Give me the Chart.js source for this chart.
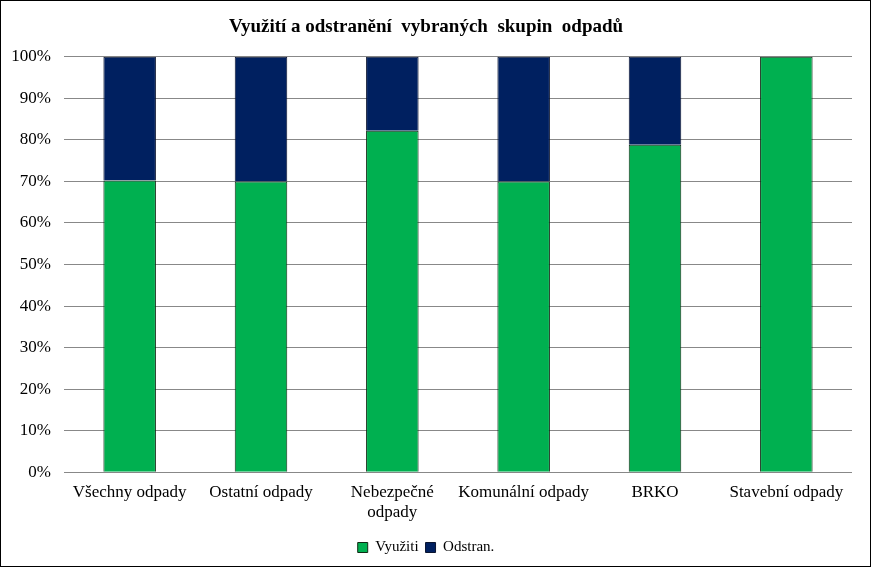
<!DOCTYPE html>
<html><head><meta charset="utf-8">
<script src="https://cdn.jsdelivr.net/npm/chart.js@4"></script>
<style>html,body{margin:0;padding:0;background:#fff}#w{width:871px;height:567px;position:relative}</style>
</head><body><div id="w"><canvas id="c" width="871" height="567"></canvas></div>
<script>
const categories = ["Všechny odpady","Ostatní odpady",["Nebezpečné","odpady"],"Komunální odpady","BRKO","Stavební odpady"];
const vyuziti = [70.2, 70.0, 82.2, 70.0, 78.8, 100];
const odstran = [29.8, 30.0, 17.8, 30.0, 21.2, 0];
const yTicks = [0,10,20,30,40,50,60,70,80,90,100];
const serif = "'Liberation Serif','Times New Roman',serif";

const borderPlugin = {id:'border', afterDraw(chart){const c=chart.ctx;c.save();c.strokeStyle='#000';c.lineWidth=1;c.strokeRect(0.5,0.5,chart.width-1,chart.height-1);c.restore();}};

new Chart(document.getElementById('c'), {
  type:'bar',
  data:{labels:categories, datasets:[
    {label:'Využiti', data:vyuziti, backgroundColor:'#00B050', borderColor:'#0f2a14', borderWidth:1, categoryPercentage:1, barPercentage:0.4},
    {label:'Odstran.', data:odstran, backgroundColor:'#002060', borderColor:'#0a1430', borderWidth:1, categoryPercentage:1, barPercentage:0.4}
  ]},
  options:{
    responsive:false, animation:false, devicePixelRatio:1,
    layout:{padding:{left:0,right:19,top:0,bottom:2}},
    plugins:{
      title:{display:true,text:'Využití a odstranění  vybraných  skupin  odpadů',color:'#000',font:{family:serif,size:19,weight:'bold'},padding:{top:16,bottom:18}},
      legend:{position:'bottom',labels:{color:'#000',font:{family:serif,size:15},boxWidth:10,boxHeight:10,padding:7}},
      tooltip:{enabled:false}
    },
    scales:{
      x:{stacked:true, grid:{display:false,drawTicks:false}, border:{display:false},
         ticks:{color:'#000',font:{family:serif,size:17},padding:10,maxRotation:0,autoSkip:false}},
      y:{stacked:true, min:0, max:100, afterFit(s){s.width=64;},
         afterBuildTicks(s){s.ticks=yTicks.map(v=>({value:v}));},
         grid:{color:'#888',drawTicks:false}, border:{display:false},
         ticks:{color:'#000',font:{family:serif,size:17},padding:13,callback:v=>v+'%'}}
    }
  },
  plugins:[borderPlugin]
});
</script></body></html>
